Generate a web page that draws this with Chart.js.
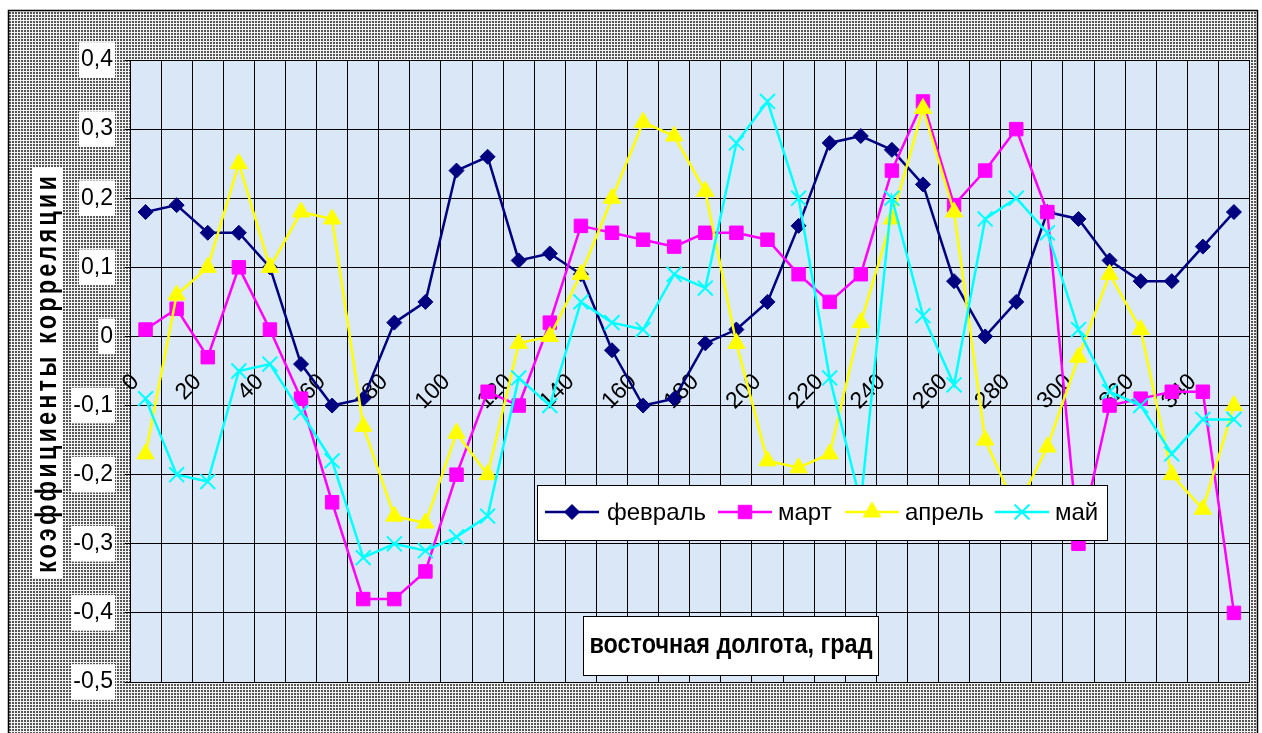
<!DOCTYPE html>
<html lang="ru">
<head>
<meta charset="utf-8">
<title>Коэффициенты корреляции по восточной долготе</title>
<script src="https://cdn.jsdelivr.net/npm/chart.js@4.4.1/dist/chart.umd.min.js"></script>
<style>
  html, body { margin: 0; padding: 0; background: #fff; overflow: hidden; }
  canvas { display: block; }
</style>
</head>
<body>
<canvas id="chart" width="1262" height="733"></canvas>
<script>
// Longitude categories, degrees east
const longitudes = ['0','10','20','30','40','50','60','70','80','90','100','110','120','130','140','150','160','170',
                    '180','190','200','210','220','230','240','250','260','270','280','290','300','310','320','330','340','350'];
// Longitudes that carry a tick label
const labeledLongitudes = ['0','20','40','60','80','100','120','140','160','180','200','220','240','260','280','300','320','340'];

// Correlation coefficients by month
const february = [0.18, 0.19, 0.15, 0.15, 0.10, -0.04, -0.10, -0.09, 0.02, 0.05, 0.24, 0.26, 0.11, 0.12, 0.09, -0.02, -0.10, -0.09,
                  -0.01, 0.01, 0.05, 0.16, 0.28, 0.29, 0.27, 0.22, 0.08, 0.00, 0.05, 0.18, 0.17, 0.11, 0.08, 0.08, 0.13, 0.18];
const march    = [0.01, 0.04, -0.03, 0.10, 0.01, -0.09, -0.24, -0.38, -0.38, -0.34, -0.20, -0.08, -0.10, 0.02, 0.16, 0.15, 0.14, 0.13,
                  0.15, 0.15, 0.14, 0.09, 0.05, 0.09, 0.24, 0.34, 0.19, 0.24, 0.30, 0.18, -0.30, -0.10, -0.09, -0.08, -0.08, -0.40];
const april    = [-0.17, 0.06, 0.10, 0.25, 0.10, 0.18, 0.17, -0.13, -0.26, -0.27, -0.14, -0.20, -0.01, 0.00, 0.09, 0.20, 0.31, 0.29,
                  0.21, -0.01, -0.18, -0.19, -0.17, 0.02, 0.17, 0.33, 0.18, -0.15, -0.25, -0.16, -0.03, 0.09, 0.01, -0.20, -0.25, -0.10];
const may      = [-0.09, -0.20, -0.21, -0.05, -0.04, -0.11, -0.18, -0.32, -0.30, -0.31, -0.29, -0.26, -0.06, -0.10, 0.05, 0.02, 0.01, 0.09,
                  0.07, 0.28, 0.34, 0.20, -0.06, -0.24, 0.20, 0.03, -0.07, 0.17, 0.20, 0.15, 0.01, -0.08, -0.10, -0.17, -0.12, -0.12];

const seriesNames = ['февраль', 'март', 'апрель', 'май'];
const yAxisTitle = 'коэффициенты корреляции';
const xAxisTitle = 'восточная долгота, град';

Chart.defaults.font.family = '"Liberation Sans", Arial, sans-serif';
Chart.defaults.color = '#000';

// Dotted grey fill for the chart frame
function dottedPattern(ctx) {
  const tile = document.createElement('canvas');
  tile.width = 3; tile.height = 3;
  const t = tile.getContext('2d');
  t.fillStyle = '#f2f2f2'; t.fillRect(0, 0, 3, 3);
  t.fillStyle = '#555555'; t.fillRect(0, 0, 2, 2);
  return ctx.createPattern(tile, 'repeat');
}

const frameBackground = {
  id: 'frameBackground',
  beforeDraw(chart) {
    const { ctx, width, height, chartArea: a } = chart;
    ctx.save();
    ctx.fillStyle = '#ffffff';
    ctx.fillRect(0, 0, width, height);
    ctx.fillStyle = dottedPattern(ctx);
    ctx.fillRect(8, 10, 1250, height - 10);
    ctx.strokeStyle = '#000';
    ctx.lineWidth = 1.5;
    ctx.strokeRect(8.5, 10.5, 1249, height + 5);
    ctx.fillStyle = '#d9e7f7';
    ctx.fillRect(a.left, a.top, a.width, a.height);
    ctx.restore();
  }
};

// Draw text centred at the origin, squeezed or stretched to a given length
function fittedText(ctx, text, font, spacing, length) {
  ctx.font = font;
  if ('letterSpacing' in ctx) ctx.letterSpacing = spacing + 'px';
  const w = ctx.measureText(text).width;
  ctx.scale(length / w, 1);
  ctx.textAlign = 'center';
  ctx.textBaseline = 'middle';
  ctx.fillStyle = '#000';
  ctx.fillText(text, 0, 0);
}

const axisTitles = {
  id: 'axisTitles',
  afterDraw(chart) {
    const ctx = chart.ctx;
    // vertical title in a white strip
    ctx.save();
    ctx.fillStyle = '#fff';
    ctx.fillRect(32, 167, 31, 411);
    ctx.translate(48, 373);
    ctx.rotate(-Math.PI / 2);
    fittedText(ctx, yAxisTitle, 'bold 30px "Liberation Sans", Arial, sans-serif', 4, 400);
    ctx.restore();

    // horizontal title in a framed box
    ctx.save();
    ctx.fillStyle = '#fff';
    ctx.fillRect(583, 616, 295, 59);
    ctx.strokeStyle = '#000';
    ctx.lineWidth = 1;
    ctx.strokeRect(583.5, 616.5, 295, 59);
    ctx.translate(731, 646);
    fittedText(ctx, xAxisTitle, 'bold 27px "Liberation Sans", Arial, sans-serif', 0, 283);
    ctx.restore();
  }
};

const boxedLegend = {
  id: 'boxedLegend',
  afterDraw(chart) {
    const ctx = chart.ctx;
    const midY = 512;
    const slots = [{ mark: 572, text: 607 }, { mark: 745, text: 778 }, { mark: 872, text: 905 }, { mark: 1022, text: 1055 }];
    ctx.save();
    ctx.fillStyle = '#fff';
    ctx.fillRect(537, 485, 570, 55);
    ctx.strokeStyle = '#000';
    ctx.lineWidth = 1;
    ctx.strokeRect(537.5, 485.5, 570, 55);
    chart.data.datasets.forEach((ds, i) => {
      const s = slots[i];
      ctx.strokeStyle = ds.borderColor;
      ctx.lineWidth = ds.borderWidth;
      ctx.beginPath();
      ctx.moveTo(s.mark - 27, midY);
      ctx.lineTo(s.mark + 27, midY);
      ctx.stroke();
      ctx.fillStyle = ds.pointBackgroundColor;
      ctx.strokeStyle = ds.pointBorderColor;
      ctx.lineWidth = ds.pointBorderWidth;
      Chart.helpers.drawPoint(ctx, { pointStyle: ds.pointStyle, radius: ds.pointRadius, rotation: 0, borderWidth: ds.pointBorderWidth }, s.mark, midY);
      ctx.fillStyle = '#000';
      ctx.font = '24px "Liberation Sans", Arial, sans-serif';
      ctx.textAlign = 'left';
      ctx.textBaseline = 'middle';
      ctx.fillText(ds.label, s.text, midY + 1);
    });
    ctx.restore();
  }
};

function series(label, data, color, style, radius, markerBorder, order) {
  return {
    label, data, order,
    borderColor: color, backgroundColor: color,
    borderWidth: 2.5,
    pointStyle: style, pointRadius: radius, pointHoverRadius: radius,
    pointBackgroundColor: color, pointBorderColor: color, pointBorderWidth: markerBorder,
    tension: 0, fill: false
  };
}

function noPadding(scale) {
  scale.paddingLeft = 0; scale.paddingRight = 0; scale.paddingTop = 0; scale.paddingBottom = 0;
}

new Chart(document.getElementById('chart'), {
  type: 'line',
  data: {
    labels: longitudes,
    datasets: [
      series(seriesNames[0], february, '#000080', 'rectRot', 7.5, 1, 3),
      series(seriesNames[1], march, '#ff00ff', 'rect', 9.5, 1, 2),
      series(seriesNames[2], april, '#ffff00', 'triangle', 10, 1, 1),
      series(seriesNames[3], may, '#00ffff', 'crossRot', 10.5, 2, 0)
    ]
  },
  options: {
    responsive: false,
    devicePixelRatio: 1,
    animation: false,
    layout: { padding: { left: 0, top: 60, right: 9, bottom: 51 } },
    plugins: { legend: { display: false }, tooltip: { enabled: false } },
    scales: {
      x: {
        type: 'category',
        position: { y: 0 },
        offset: true,
        grid: { color: '#000', lineWidth: 1, offset: true, drawTicks: false },
        border: { color: '#000', width: 1 },
        ticks: { display: false },
        afterFit: noPadding
      },
      xTicks: {
        type: 'category',
        axis: 'x',
        position: { y: 0 },
        offset: true,
        z: 1,
        grid: { display: false, drawTicks: false },
        border: { display: false },
        ticks: {
          autoSkip: false, minRotation: 45, maxRotation: 45,
          padding: 32, labelOffset: -10,
          color: '#000', font: { size: 23 },
          callback: (v, i) => labeledLongitudes.includes(longitudes[i]) ? longitudes[i] : ''
        },
        afterFit: noPadding
      },
      y: {
        min: -0.5, max: 0.4,
        grid: { color: '#000', lineWidth: 1, tickLength: 5 },
        border: { color: '#000', width: 1 },
        ticks: {
          stepSize: 0.1, padding: 12, color: '#000', font: { size: 23 },
          showLabelBackdrop: true, backdropColor: '#fff', backdropPadding: { x: 2, y: 4 },
          callback: v => {
            const r = Math.round(v * 10) / 10;
            return r === 0 ? '0' : r.toFixed(1).replace('.', ',');
          }
        },
        afterFit(scale) { scale.width = 130; }
      }
    }
  },
  plugins: [frameBackground, axisTitles, boxedLegend]
});
</script>
</body>
</html>
